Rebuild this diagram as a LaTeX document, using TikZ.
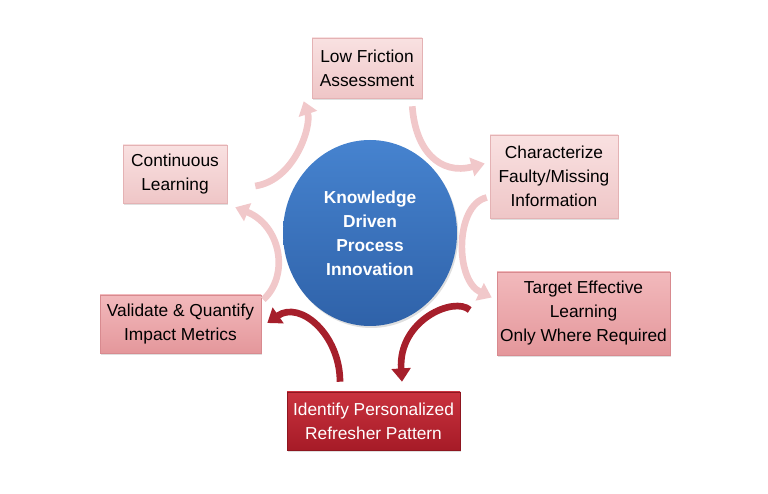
\documentclass[tikz,border=0pt]{standalone}
\usepackage{fontspec}
\setmainfont{Liberation Sans}
\usepackage{tikz}
\usetikzlibrary{shapes.geometric, shadows, arrows.meta}

\definecolor{paletop}{HTML}{F9E1E1}
\definecolor{palebot}{HTML}{EFC6C7}
\definecolor{paleedge}{HTML}{E4B2B4}
\definecolor{midtop}{HTML}{F2B9BC}
\definecolor{midbot}{HTML}{E4979B}
\definecolor{midedge}{HTML}{D88A8F}
\definecolor{redtop}{HTML}{C9323E}
\definecolor{redbot}{HTML}{A61B27}
\definecolor{rededge}{HTML}{8E1620}
\definecolor{hubtop}{HTML}{4683CF}
\definecolor{hubbot}{HTML}{2F62A9}
\definecolor{arrowpale}{HTML}{F1C8CA}
\definecolor{arrowred}{HTML}{A61F2B}

\begin{document}
\begin{tikzpicture}[x=0.75pt, y=0.75pt,
    box/.style={rectangle, align=center, inner sep=0pt, font=\fontsize{13}{18}\selectfont,
      drop shadow={opacity=0.25, shadow xshift=1pt, shadow yshift=-1.5pt}},
    palebox/.style={box, top color=paletop, bottom color=palebot, draw=paleedge},
    midbox/.style={box, top color=midtop, bottom color=midbot, draw=midedge},
    redbox/.style={box, top color=redtop, bottom color=redbot, draw=rededge, text=white},
    palearrow/.style={line width=5pt, draw=arrowpale, -{Triangle[width=14pt, length=10pt]}},
    redarrow/.style={line width=5pt, draw=arrowred, -{Triangle[width=14pt, length=10pt]}}]
    \useasboundingbox (0, 0) rectangle (768, 493);

    % centre
    \node[ellipse, minimum width=130.5pt, minimum height=139.5pt, inner sep=0pt,
      top color=hubtop, bottom color=hubbot, text=white, align=center,
      font=\fontsize{13}{18}\selectfont\bfseries,
      drop shadow={opacity=0.25, shadow xshift=1pt, shadow yshift=-1.5pt}]
      (hub) at (370, 260) {Knowledge\\Driven\\Process\\Innovation};

    % steps round the centre
    \node[palebox, minimum width=82.5pt, minimum height=45pt] (low) at (367, 425) {Low Friction\\Assessment};
    \node[palebox, minimum width=96pt, minimum height=62.25pt] (char) at (554, 316.5) {Characterize\\Faulty/Missing\\Information};
    \node[midbox, minimum width=129.75pt, minimum height=62.25pt] (target) at (583.5, 179.5) {Target Effective\\Learning\\Only Where Required};
    \node[redbox, minimum width=129.75pt, minimum height=43.5pt] (ident) at (373.5, 72) {Identify Personalized\\Refresher Pattern};
    \node[midbox, minimum width=120.75pt, minimum height=43.5pt] (valid) at (180.5, 169) {Validate \& Quantify\\Impact Metrics};
    \node[palebox, minimum width=78pt, minimum height=43.5pt] (cont) at (175, 319) {Continuous\\Learning};

    % curved arrows
    \draw[palearrow] ([shift={(28,-12)}]cont.east) .. controls +(40,6) and +(8,-24) .. ([shift={(-8,-3)}]low.south west);
    \draw[palearrow] ([shift={(-10,-8)}]low.south east) .. controls +(3,-44) and +(-45,-12) .. ([shift={(-5,13)}]char.west);
    \draw[palearrow] ([shift={(-3,-21)}]char.west) .. controls +(-32,-7.5) and +(-37,17.5) .. ([shift={(-5,16)}]target.west);
    \draw[redarrow] ([shift={(-27,3.5)}]target.west) .. controls +(-15,14) and +(-4,62) .. ([shift={(28.5,10)}]ident.north);
    \draw[redarrow] ([shift={(-33.5,10)}]ident.north) .. controls +(0,47) and +(33,23) .. ([shift={(6,1)}]valid.east);
    \draw[palearrow] ([shift={(2,-5)}]valid.north east) .. controls +(27,25) and +(45,-18) .. ([shift={(8,-4)}]cont.south east);
  \end{tikzpicture}
\end{document}
